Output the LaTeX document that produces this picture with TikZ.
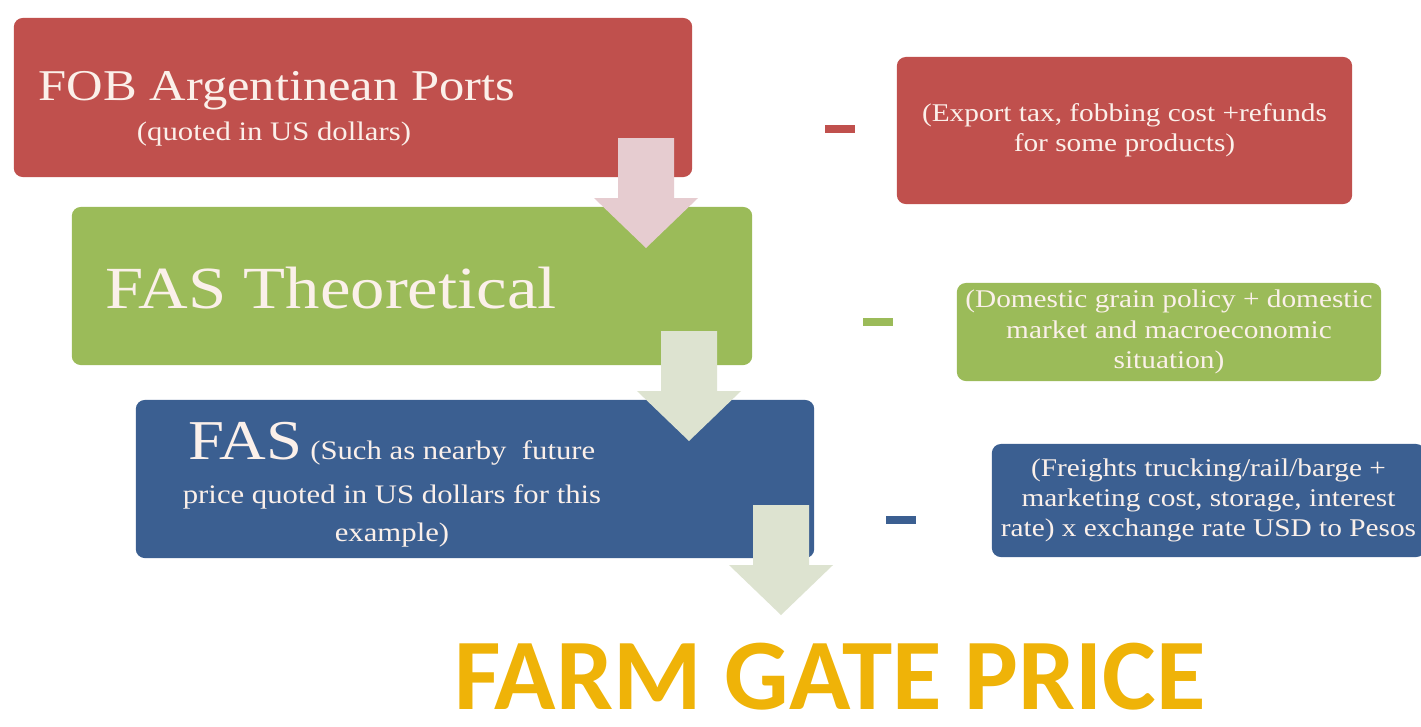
\documentclass[tikz,border=0pt]{standalone}
\usepackage{fontspec}
\setmainfont{Liberation Serif}[FakeStretch=1.15]
\newfontfamily\gatefont{Carlito}
\usepackage{xcolor}

\definecolor{fobred}{HTML}{C0504D}
\definecolor{fasgreen}{HTML}{9BBB59}
\definecolor{fasblue}{HTML}{3B5F91}
\definecolor{boxtext}{HTML}{FBF0EA}
\definecolor{pinkarrow}{HTML}{E6CCD0}
\definecolor{palearrow}{HTML}{DDE3D0}
\definecolor{gold}{HTML}{EFB308}

\tikzstyle{every node}=[inner sep=0pt]
\tikzstyle{box}=[rectangle, rounded corners=0.09cm, text=boxtext]
\tikzstyle{note}=[font=\fontsize{7.25}{8.6}\selectfont, align=center]
\tikzstyle{sub}=[font=\fontsize{7.6}{10.8}\selectfont, text=boxtext]
\tikzstyle{minus}=[rectangle, minimum width=0.3cm, minimum height=0.08cm]

% block arrow pointing down: x centre, top y, colour
\newcommand{\flowarrow}[3]{%
 \fill[#3] (#1-28,#2) -- (#1+28,#2) -- (#1+28,#2+60) -- (#1+52,#2+60)
   -- (#1,#2+110) -- (#1-52,#2+60) -- (#1-28,#2+60) -- cycle;}

\begin{document}
\begin{tikzpicture}[x=0.01cm,y=-0.01cm]
\clip (0,0) rectangle (1421,726);
\fill[white] (0,0) rectangle (1421,726);

 % price steps
 \node[box, fill=fobred, minimum width=6.78cm, minimum height=1.59cm] (fob) at (353,97.5) {};
 \node[box, fill=fasgreen, minimum width=6.80cm, minimum height=1.58cm] (fast) at (412,286) {};
 \node[box, fill=fasblue, minimum width=6.78cm, minimum height=1.58cm] (fas) at (475,479) {};

 \node[anchor=base west, text=boxtext, font=\fontsize{12.5}{14}\selectfont] (fobtxt) at (38,100) {FOB Argentinean Ports};
 \node[sub, anchor=base] (fobsub) at (274,140) {(quoted in US dollars)};
 \node[anchor=base west, text=boxtext, font=\fontsize{17}{18}\selectfont] (fasttxt) at (105,308) {FAS Theoretical};
 \node[sub, align=center] (fastxt) at (392,485)
   {{\fontsize{16}{16}\selectfont FAS} (Such as nearby\ \ future\\[1.7pt]
    price quoted in US dollars for this\\example)};

 \flowarrow{646}{138}{pinkarrow}
 \flowarrow{689}{331}{palearrow}
 \flowarrow{781}{505}{palearrow}

 % deductions
 \node[minus, fill=fobred] (m1) at (840,129) {};
 \node[minus, fill=fasgreen] (m2) at (877.5,322) {};
 \node[minus, fill=fasblue] (m3) at (900.5,520) {};

 \node[box, note, fill=fobred, minimum width=4.55cm, minimum height=1.47cm] (tax) at (1124.5,130.5)
   {(Export tax, fobbing cost +refunds\\for some products)};
 \node[box, note, fill=fasgreen, minimum width=4.24cm, minimum height=0.98cm] (policy) at (1169,332)
   {(Domestic grain policy + domestic\\market and macroeconomic\\situation)};
 \node[box, note, fill=fasblue, minimum width=4.33cm, minimum height=1.13cm] (freight) at (1208.5,500.5)
   {(Freights trucking/rail/barge +\\marketing cost, storage, interest\\rate) x exchange rate USD to Pesos};

 \node[anchor=base, text=gold, font=\gatefont\bfseries\fontsize{28.8}{30}\selectfont] (farm) at (830,709) {FARM GATE PRICE};
\end{tikzpicture}
\end{document}
